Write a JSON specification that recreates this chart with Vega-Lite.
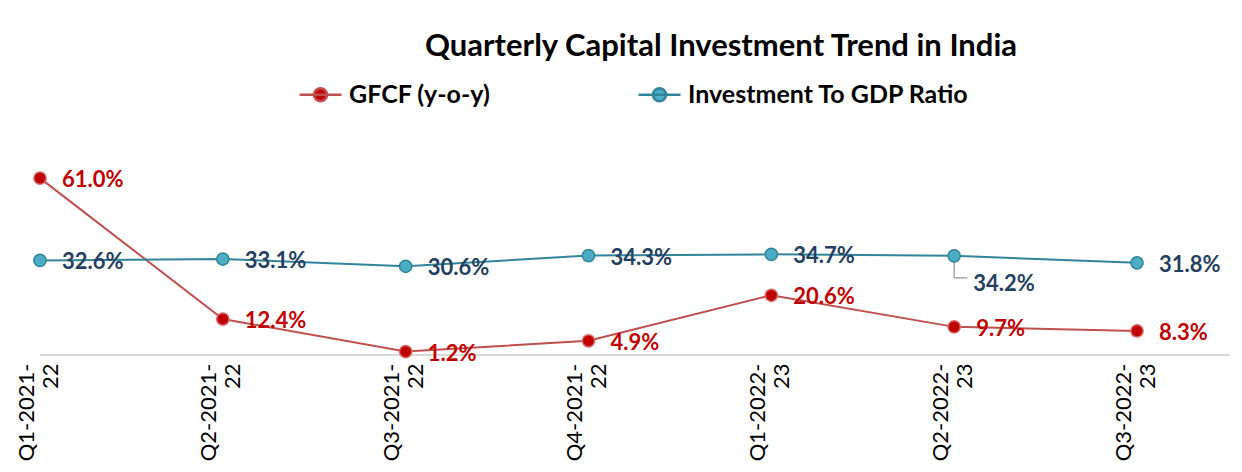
{
  "$schema": "https://vega.github.io/schema/vega-lite/v6.json",
  "autosize": "none",
  "width": 1190,
  "height": 203,
  "padding": {"left": 40, "top": 152, "right": 12, "bottom": 117},
  "background": "white",
  "config": {
    "view": {"stroke": null},
    "font": "Lato"
  },
  "title": {
    "text": "Quarterly Capital Investment Trend in India",
    "font": "Lato",
    "fontSize": 31,
    "fontWeight": "bold",
    "color": "#000000",
    "anchor": "middle",
    "dx": 86,
    "offset": 9
  },
  "data": {
    "values": [
      {"quarter": "Q1-2021-22", "series": "GFCF (y-o-y)", "value": 0.610},
      {"quarter": "Q2-2021-22", "series": "GFCF (y-o-y)", "value": 0.124},
      {"quarter": "Q3-2021-22", "series": "GFCF (y-o-y)", "value": 0.012},
      {"quarter": "Q4-2021-22", "series": "GFCF (y-o-y)", "value": 0.049},
      {"quarter": "Q1-2022-23", "series": "GFCF (y-o-y)", "value": 0.206},
      {"quarter": "Q2-2022-23", "series": "GFCF (y-o-y)", "value": 0.097},
      {"quarter": "Q3-2022-23", "series": "GFCF (y-o-y)", "value": 0.083},
      {"quarter": "Q1-2021-22", "series": "Investment To GDP Ratio", "value": 0.326},
      {"quarter": "Q2-2021-22", "series": "Investment To GDP Ratio", "value": 0.331},
      {"quarter": "Q3-2021-22", "series": "Investment To GDP Ratio", "value": 0.306},
      {"quarter": "Q4-2021-22", "series": "Investment To GDP Ratio", "value": 0.343},
      {"quarter": "Q1-2022-23", "series": "Investment To GDP Ratio", "value": 0.347},
      {"quarter": "Q2-2022-23", "series": "Investment To GDP Ratio", "value": 0.342},
      {"quarter": "Q3-2022-23", "series": "Investment To GDP Ratio", "value": 0.318}
    ]
  },
  "encoding": {
    "x": {
      "field": "quarter",
      "type": "nominal",
      "sort": ["Q1-2021-22", "Q2-2021-22", "Q3-2021-22", "Q4-2021-22", "Q1-2022-23", "Q2-2022-23", "Q3-2022-23"],
      "scale": {"type": "point", "range": [0, 1097], "padding": 0},
      "axis": {
        "title": null,
        "domain": false,
        "ticks": false,
        "labelAngle": -90,
        "labelAlign": "right",
        "labelBaseline": "middle",
        "labelFont": "Lato",
        "labelFontSize": 22,
        "labelColor": "#000000",
        "labelPadding": 8,
        "labelOffset": -14,
        "labelExpr": "[slice(datum.label, 0, 8), slice(datum.label, 8)]"
      }
    },
    "y": {
      "field": "value",
      "type": "quantitative",
      "scale": {"domain": [0, 0.7], "nice": false},
      "axis": null
    }
  },
  "layer": [
    {
      "mark": {"type": "rule", "color": "#d9d9d9", "strokeWidth": 2},
      "encoding": {"x": null, "y": {"datum": 0}}
    },
    {
      "transform": [{"filter": "datum.quarter == 'Q2-2022-23' && datum.series == 'Investment To GDP Ratio'"}],
      "mark": {"type": "rule", "color": "#a6a6a6", "strokeWidth": 1.5, "yOffset": 4, "y2Offset": 22},
      "encoding": {"y2": {"field": "value"}}
    },
    {
      "transform": [{"filter": "datum.quarter == 'Q2-2022-23' && datum.series == 'Investment To GDP Ratio'"}],
      "mark": {"type": "rule", "color": "#a6a6a6", "strokeWidth": 1.5, "yOffset": 22, "y2Offset": 22, "x2Offset": 13},
      "encoding": {"x2": {"field": "quarter"}, "y2": {"field": "value"}}
    },
    {
      "mark": {"type": "line", "strokeWidth": 2},
      "encoding": {
        "color": {
          "field": "series",
          "type": "nominal",
          "scale": {"domain": ["GFCF (y-o-y)", "Investment To GDP Ratio"], "range": ["#c0504d", "#31849b"]},
          "legend": {
            "title": null,
            "orient": "none",
            "direction": "horizontal",
            "columns": 2,
            "legendX": 258,
            "legendY": -80,
            "columnPadding": 142,
            "labelFont": "Lato",
            "labelFontSize": 25,
            "labelFontWeight": "bold",
            "labelColor": "#000000",
            "labelOffset": 6,
            "labelLimit": 0,
            "symbolType": "M-1,0L1,0M-0.31,0A0.31,0.31,0,1,0,0.31,0A0.31,0.31,0,1,0,-0.31,0Z",
            "symbolSize": 1764,
            "symbolStrokeWidth": 2.5,
            "encode": {"symbols": {"update": {"fill": {"scale": "fill", "field": "value"}, "fillOpacity": {"value": 1}}}}
          }
        }
      }
    },
    {
      "mark": {"type": "point", "filled": true, "size": 150, "strokeWidth": 1.5, "opacity": 1},
      "encoding": {
        "fill": {
          "field": "series",
          "type": "nominal",
          "scale": {"domain": ["GFCF (y-o-y)", "Investment To GDP Ratio"], "range": ["#c00000", "#4bacc6"]},
          "legend": null
        },
        "stroke": {
          "field": "series",
          "type": "nominal",
          "scale": {"domain": ["GFCF (y-o-y)", "Investment To GDP Ratio"], "range": ["#d46a6a", "#31849b"]},
          "legend": null
        }
      }
    },
    {
      "transform": [{"filter": "datum.series == 'GFCF (y-o-y)'"}],
      "mark": {"type": "text", "align": "left", "baseline": "middle", "dx": 22, "dy": 2, "font": "Lato", "fontSize": 22, "fontWeight": "bold", "color": "#c00000"},
      "encoding": {"text": {"field": "value", "type": "quantitative", "format": ".1%"}}
    },
    {
      "transform": [{"filter": "datum.series == 'Investment To GDP Ratio' && datum.quarter != 'Q2-2022-23'"}],
      "mark": {"type": "text", "align": "left", "baseline": "middle", "dx": 22, "dy": 2, "font": "Lato", "fontSize": 22, "fontWeight": "bold", "color": "#243f60"},
      "encoding": {"text": {"field": "value", "type": "quantitative", "format": ".1%"}}
    },
    {
      "transform": [{"filter": "datum.series == 'Investment To GDP Ratio' && datum.quarter == 'Q2-2022-23'"}],
      "mark": {"type": "text", "align": "left", "baseline": "middle", "dx": 19, "dy": 28, "font": "Lato", "fontSize": 22, "fontWeight": "bold", "color": "#243f60"},
      "encoding": {"text": {"field": "value", "type": "quantitative", "format": ".1%"}}
    }
  ]
}
